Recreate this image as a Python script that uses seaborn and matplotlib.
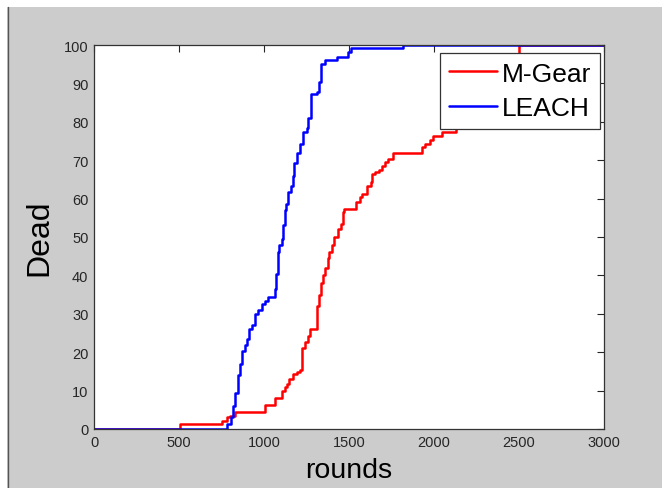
import matplotlib
matplotlib.use("Agg")
import matplotlib.pyplot as plt
import seaborn as sns
import pandas as pd
from matplotlib.lines import Line2D
from matplotlib.patches import Rectangle

# ---- data ----
mgear_rounds = [0, 506, 753, 781, 800, 832, 1006, 1065, 1104, 1124, 1137, 1149, 1172, 1196,
                1212, 1224, 1241, 1259, 1268, 1310, 1314, 1321, 1334, 1349, 1359, 1374, 1385,
                1400, 1414, 1438, 1453, 1463, 1471, 1543, 1562, 1575, 1606, 1629, 1635, 1653,
                1678, 1694, 1712, 1731, 1761, 1929, 1950, 1976, 1994, 2050, 2132, 2250, 2300,
                2350, 2400, 2440, 2476, 2500, 3000]
mgear_dead = [0, 1.3, 2.2, 3, 3.5, 4.3, 6.3, 8.2, 10, 11, 11.7, 13, 14.3, 14.8,
              15.4, 21, 22.6, 24.3, 26, 30, 32, 35, 38, 40, 42, 44.5, 46,
              48, 50, 52, 53.5, 56.4, 57.3, 59, 60.5, 61.2, 63.4, 64.2, 66.4, 67,
              67.5, 68.6, 69.5, 70.3, 72, 73.4, 74.2, 75.3, 76.2, 77.3, 78.5, 80, 83,
              86, 89, 93, 97, 100, 100]

leach_rounds = [0, 780, 808, 819, 831, 849, 859, 871, 888, 902, 912, 930, 945, 966, 988,
                1006, 1025, 1062, 1071, 1084, 1091, 1104, 1114, 1124, 1132, 1143, 1157,
                1169, 1178, 1192, 1212, 1231, 1251, 1261, 1275, 1310, 1325, 1334, 1359,
                1428, 1496, 1510, 1816, 3000]
leach_dead = [0, 1.3, 3, 6, 9.5, 14, 17, 20.4, 22, 23.5, 26, 27, 30, 31, 32.5,
              33.4, 34.3, 36.5, 40.4, 46, 48, 49.5, 53, 57, 58.5, 61.6, 63.4,
              66, 69.4, 72, 74.2, 77.3, 78.5, 81, 87.2, 87.7, 90.3, 95, 96,
              97, 98.3, 99.3, 100, 100]

series_names = ["M-Gear", "LEACH"]
series_colors = ["#ff0000", "#0000ff"]
x_ticks = [0, 500, 1000, 1500, 2000, 2500, 3000]
y_ticks = list(range(0, 101, 10))

df = pd.concat([
    pd.DataFrame({"rounds": mgear_rounds, "Dead": mgear_dead, "series": series_names[0]}),
    pd.DataFrame({"rounds": leach_rounds, "Dead": leach_dead, "series": series_names[1]}),
], ignore_index=True)

sns.set_style("white")
plt.rcParams["font.family"] = ["Liberation Sans", "DejaVu Sans"]

fig = plt.figure(figsize=(6.62, 4.89), dpi=100)
fig.patch.set_facecolor("#cccccc")
# white strip top/left like the reference frame
fig.patches.append(Rectangle((0, 0), 7 / 662, 1, transform=fig.transFigure,
                             facecolor="white", edgecolor="none", zorder=-1))
fig.patches.append(Rectangle((0, 1 - 8 / 489), 1, 8 / 489, transform=fig.transFigure,
                             facecolor="white", edgecolor="none", zorder=-1))
fig.lines.append(Line2D([7.5 / 662, 7.5 / 662], [0, 1 - 8 / 489], transform=fig.transFigure,
                        color="#555555", lw=1))

ax = fig.add_axes([94 / 662, 1 - 430 / 489, 510 / 662, 384 / 489])
ax.set_facecolor("white")

sns.lineplot(data=df, x="rounds", y="Dead", hue="series", hue_order=series_names,
             palette=series_colors, estimator=None, sort=False,
             drawstyle="steps-post", linewidth=1.8, ax=ax, legend=False)

ax.set_xlim(0, 3000)
ax.set_ylim(0, 100)
ax.set_xticks(x_ticks)
ax.set_yticks(y_ticks)
ax.tick_params(direction="in", length=5, width=0.8, colors="#262626",
               top=True, right=True, labelsize=10.5, pad=4)
ax.tick_params(axis="x", labelbottom=True, labeltop=False)
ax.tick_params(axis="y", labelleft=True, labelright=False)
for sp in ax.spines.values():
    sp.set_visible(True)
    sp.set_color("#333333")
    sp.set_linewidth(0.9)

ax.set_xlabel("rounds", fontsize=20.5, labelpad=6, color="black")
ax.set_ylabel("Dead", fontsize=23, labelpad=7, color="black")

handles = [Line2D([], [], color=c, lw=1.8) for c in series_colors]
leg = ax.legend(handles, series_names, loc="upper right", bbox_to_anchor=(1 - 4 / 510, 1 - 8 / 384),
                borderaxespad=0, fontsize=19, frameon=True, fancybox=False, framealpha=1,
                edgecolor="#333333", handlelength=1.8, handletextpad=0.2,
                labelspacing=0.4, borderpad=0.33, labelcolor="black")
leg.get_frame().set_linewidth(0.9)

fig.savefig("out.png", dpi=100, facecolor=fig.get_facecolor())
